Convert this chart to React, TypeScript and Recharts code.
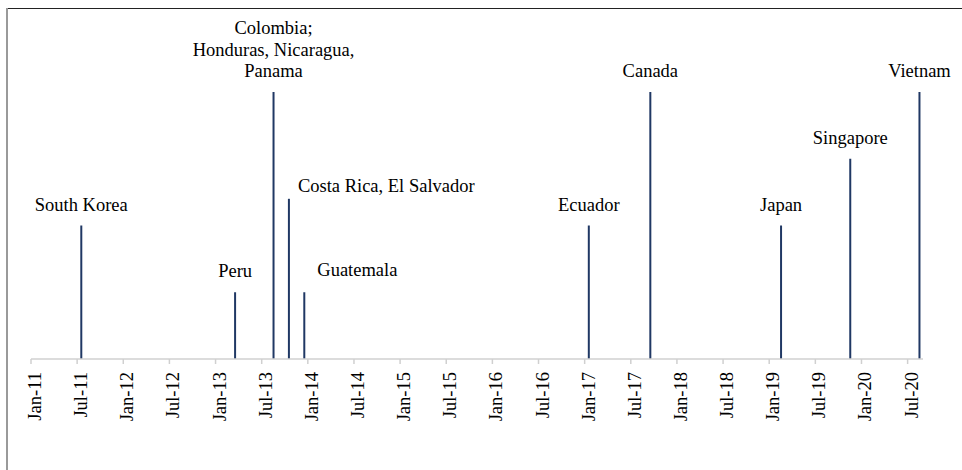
import React from 'react';
import { ComposedChart, Bar, XAxis, YAxis, LabelList } from 'recharts';

// Agreement entry dates (YYYY-MM) and relative bar heights
const countries = [
  'South Korea',
  'Peru',
  'Colombia;\nHonduras, Nicaragua,\nPanama',
  'Costa Rica, El Salvador',
  'Guatemala',
  'Ecuador',
  'Canada',
  'Japan',
  'Singapore',
  'Vietnam',
];
const dates = ['2011-07', '2013-03', '2013-08', '2013-10', '2013-12', '2017-01', '2017-09', '2019-02', '2019-11', '2020-08'];
const heights = [2, 1, 4, 2.4, 1, 2, 4, 2, 3, 4];
const tickLabels = [
  'Jan-11', 'Jul-11', 'Jan-12', 'Jul-12', 'Jan-13', 'Jul-13', 'Jan-14', 'Jul-14', 'Jan-15', 'Jul-15',
  'Jan-16', 'Jul-16', 'Jan-17', 'Jul-17', 'Jan-18', 'Jul-18', 'Jan-19', 'Jul-19', 'Jan-20', 'Jul-20',
];

const FONT = "'Liberation Serif', Tinos, 'Times New Roman', Times, 'DejaVu Serif', serif";
const NAVY = '#203864';
const textStyle = { fontFamily: FONT, fontSize: 18.5, fill: '#000' };

// months since Jan 2011, centred in the month like a date axis
const monthIndex = (d: string) => {
  const [y, m] = d.split('-').map(Number);
  return (y - 2011) * 12 + (m - 1) + 0.5;
};

const data = countries.map((name, i) => ({ name, t: monthIndex(dates[i]), v: heights[i] }));
const ticks = tickLabels.map((_, i) => i * 6);

// labels that sit to the right of their line instead of centred above it
const sideLabels: Record<string, { dx: number; dy: number }> = {
  'Costa Rica, El Salvador': { dx: 9, dy: -7 },
  Guatemala: { dx: 13, dy: -16 },
};

const BarLabel = (props: any) => {
  const { x, y, width, value } = props;
  const cx = x + width / 2;
  const side = sideLabels[value];
  if (side) {
    return (
      <text x={cx + side.dx} y={y + side.dy} textAnchor="start" style={textStyle}>
        {value}
      </text>
    );
  }
  const lines = String(value).split('\n');
  return (
    <text textAnchor="middle" style={textStyle}>
      {lines.map((l, i) => (
        <tspan key={i} x={cx} y={y - 15 - (lines.length - 1 - i) * 21.5}>
          {l}
        </tspan>
      ))}
    </text>
  );
};

const DateTick = (props: any) => {
  const { x, y, payload } = props;
  const label = tickLabels[Math.round(payload.value / 6)];
  return (
    <text
      transform={`translate(${x + 4},${y + 8}) rotate(-90)`}
      textAnchor="end"
      dominantBaseline="central"
      style={textStyle}
    >
      {label}
    </text>
  );
};

export default function App() {
  return (
    <div style={{ position: 'absolute', left: 0, top: 0, width: 962, height: 470, overflow: 'hidden', background: '#fff' }}>
      {/* frame around the figure, cropped on the right and bottom */}
      <div style={{ position: 'absolute', left: 6, top: 8, width: 2, height: 480, background: '#9a9a9a' }} />
      <div style={{ position: 'absolute', left: 8, top: 8, width: 960, height: 1, background: '#222' }} />
      <div style={{ position: 'absolute', left: 0, top: 0 }}>
        <ComposedChart width={962} height={470} data={data} margin={{ top: 92, right: 39, bottom: 0, left: 31 }}>
          <XAxis
            dataKey="t"
            type="number"
            domain={[0, 116]}
            ticks={ticks}
            interval={0}
            height={111}
            stroke="#d0d0d0"
            strokeWidth={1.5}
            tickSize={5}
            tickMargin={0}
            tick={<DateTick />}
            allowDataOverflow
          />
          <YAxis hide domain={[0, 4]} />
          <Bar dataKey="v" fill={NAVY} barSize={2} isAnimationActive={false}>
            <LabelList dataKey="name" content={<BarLabel />} />
          </Bar>
        </ComposedChart>
      </div>
    </div>
  );
}
